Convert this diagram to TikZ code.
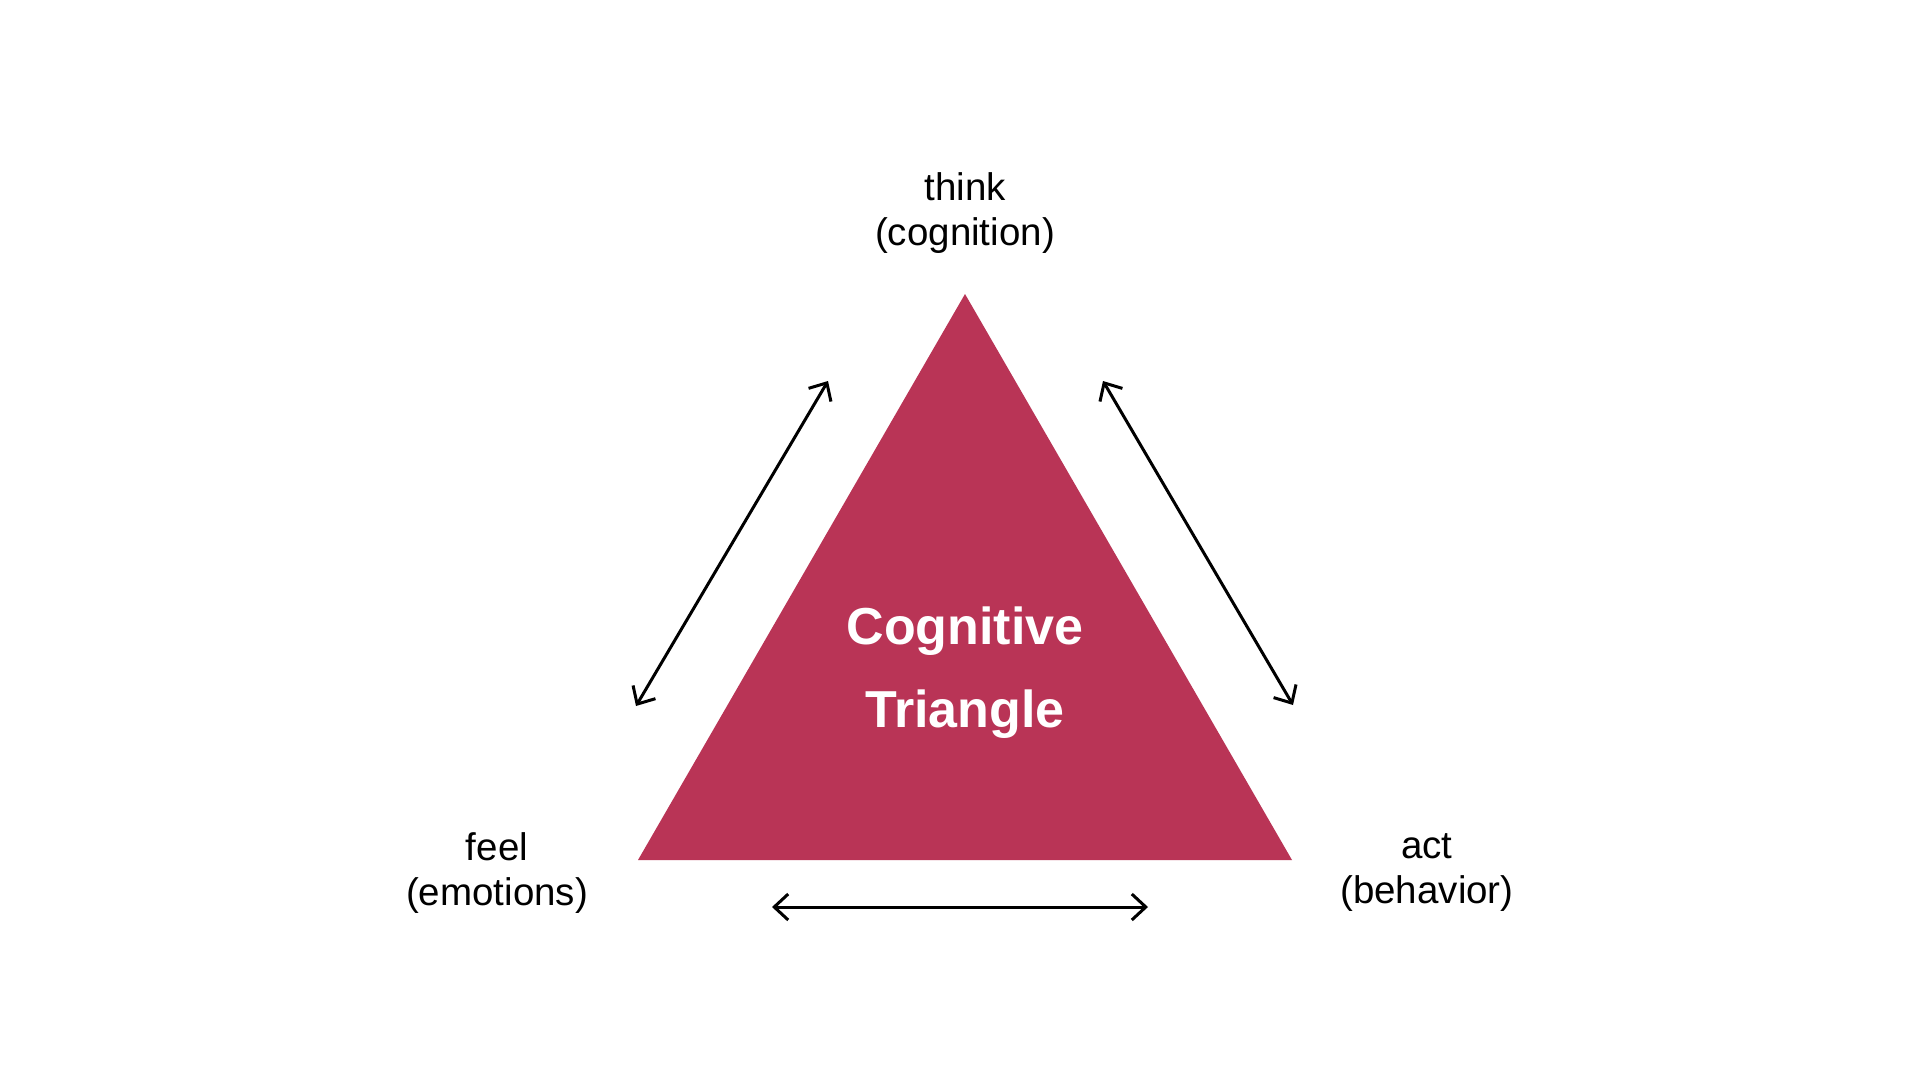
\documentclass[tikz,border=0pt]{standalone}
\usepackage{fontspec}
\setmainfont{Liberation Sans}
\usetikzlibrary{arrows.meta}
\definecolor{tri}{HTML}{B93456}
\tikzset{
  lbl/.style={align=center, text=black, font=\fontsize{38.5}{45}\selectfont, inner sep=0pt},
  title/.style={align=center, text=white, font=\fontsize{52}{83}\selectfont\bfseries, inner sep=0pt},
  dbl/.style={line width=3pt, {Straight Barb[length=14pt,width=26pt]}-{Straight Barb[length=14pt,width=26pt]}}
}
\begin{document}
\begin{tikzpicture}[x=1pt,y=-1pt]
\useasboundingbox[fill=white] (0,0) rectangle (1920,1081);
% triangle
\coordinate (apex) at (965,294);
\coordinate (bl) at (638,860);
\coordinate (br) at (1292,860);
\fill[tri] (apex) -- (bl) -- (br) -- cycle;
\node[title] (ct) at (965,673) {Cognitive\\Triangle};
% labels
\node[lbl] (think) at (965,213) {think\\(cognition)};
\node[lbl] (feel) at (497,873) {feel\\(emotions)};
\node[lbl] (act) at (1427,873) {act\\(behavior)};
% arrows
\coordinate (l1) at (636,706);
\coordinate (l2) at (828,381);
\coordinate (r1) at (1103,381);
\coordinate (r2) at (1293,705);
\coordinate (b1) at (772,907);
\coordinate (b2) at (1148,907);
\draw[dbl] (l1) -- (l2);
\draw[dbl] (r1) -- (r2);
\draw[dbl] (b1) -- (b2);
\end{tikzpicture}
\end{document}
